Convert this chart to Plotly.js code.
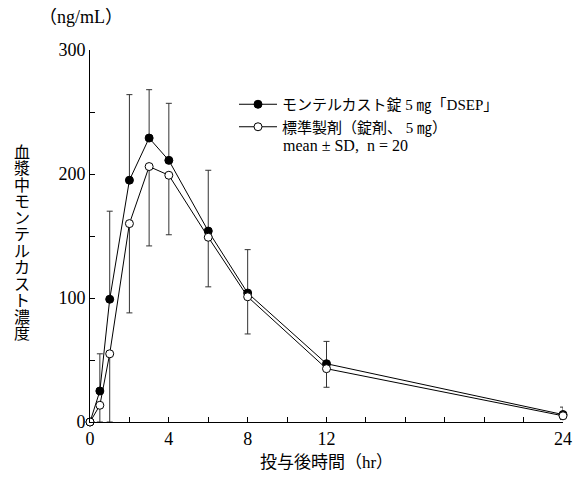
<!DOCTYPE html>
<html><head><meta charset="utf-8">
<script src="https://cdn.plot.ly/plotly-3.0.1.min.js"></script>
<style>html,body{margin:0;padding:0;background:#fff}#chart{width:581px;height:477px}</style>
</head><body><div id="chart"></div>
<script>
// Data (hours, ng/mL)
const timePoints = [0, 0.5, 1, 2, 3, 4, 6, 8, 12, 24];
const testMean = [0, 25, 99, 195, 229, 211, 154, 104, 47, 6];
const testSDUpper = [0, 30, 71, 69, 39, 46, 49, 35, 18, 6];
const refMean = [0, 13.5, 55, 160, 206, 199, 149, 101, 43, 5];
const refSDLower = [0, 13.5, 55, 72, 64, 48, 40, 30, 15, 3];
const testName = 'モンテルカスト錠 5 ㎎「DSEP」';
const refName = '標準製剤（錠剤、 5 ㎎）';
const statNote = 'mean ± SD,  n = 20';
const xTickVals = [0, 2, 4, 6, 8, 10, 12, 14, 16, 18, 20, 22, 24];
const xTickText = ['0', '', '4', '', '8', '', '12', '', '', '', '', '', '24'];
const yTickVals = [0, 50, 100, 150, 200, 250, 300];
const yTickText = ['0', '', '100', '', '200', '', '300'];
const yTitleChars = ['血','漿','中','モ','ン','テ','ル','カ','ス','ト','濃','度'];
const unitLabel = '（ng/mL）';
const xTitle = '投与後時間（hr）';

const FONT = '"Liberation Serif", "DejaVu Serif", "Noto Sans CJK JP", serif';

const traces = [
  {
    x: timePoints, y: testMean, name: testName, type: 'scatter', mode: 'lines+markers',
    line: {color: '#000', width: 1},
    marker: {color: '#000', size: 8, line: {color: '#000', width: 1}},
    error_y: {type: 'data', symmetric: false, array: testSDUpper, arrayminus: testMean.map(() => 0),
              color: '#333', thickness: 1, width: 3},
    cliponaxis: false
  },
  {
    x: timePoints, y: refMean, name: refName, type: 'scatter', mode: 'lines+markers',
    line: {color: '#000', width: 1},
    marker: {color: '#fff', size: 8, line: {color: '#000', width: 1}},
    error_y: {type: 'data', symmetric: false, array: refMean.map(() => 0), arrayminus: refSDLower,
              color: '#333', thickness: 1, width: 3},
    cliponaxis: false
  }
];

const plotL = 90, plotR = 563, plotT = 50, plotB = 422;
const pw = plotR - plotL, ph = plotB - plotT;
const annotations = [
  {xref: 'paper', yref: 'paper', x: (37 - plotL) / pw, y: (plotB - 17) / ph, xanchor: 'left', yanchor: 'middle',
   text: unitLabel, showarrow: false, font: {family: FONT, size: 18, color: '#000'}},
  {xref: 'paper', yref: 'paper', x: (281 - plotL) / pw, y: (plotB - 145) / ph, xanchor: 'left', yanchor: 'middle',
   text: statNote, showarrow: false, font: {family: FONT, size: 16, color: '#000'}}
];
yTitleChars.forEach((c, i) => {
  annotations.push({xref: 'paper', yref: 'paper', x: (22 - plotL) / pw, y: (plotB - (152 + i * 16.5)) / ph,
    xanchor: 'center', yanchor: 'middle', text: c, showarrow: false,
    font: {family: FONT, size: 16, color: '#000'}});
});

const layout = {
  width: 581, height: 477,
  margin: {l: plotL, r: 581 - plotR, t: plotT, b: 477 - plotB},
  paper_bgcolor: '#fff', plot_bgcolor: '#fff',
  font: {family: FONT, color: '#000'},
  showlegend: true,
  legend: {x: (234 - plotL) / pw, y: (plotB - 88) / ph, xanchor: 'left', yanchor: 'top',
           bgcolor: 'rgba(0,0,0,0)', font: {family: FONT, size: 15, color: '#000'},
           tracegroupgap: 0, itemwidth: 38},
  xaxis: {range: [0, 24], tickvals: xTickVals, ticktext: xTickText, ticks: 'inside', ticklen: 5,
          tickcolor: '#000', showline: true, linecolor: '#000', linewidth: 1, showgrid: false, zeroline: false,
          tickfont: {family: FONT, size: 18, color: '#000'},
          title: {text: xTitle, font: {family: FONT, size: 17, color: '#000'}, standoff: 8}},
  yaxis: {range: [0, 300], tickvals: yTickVals, ticktext: yTickText, ticks: 'inside', ticklen: 5,
          tickcolor: '#000', showline: true, linecolor: '#000', linewidth: 1, showgrid: false, zeroline: false,
          tickfont: {family: FONT, size: 18, color: '#000'}},
  annotations: annotations
};

Plotly.newPlot('chart', traces, layout, {staticPlot: true, displayModeBar: false});
</script></body></html>
